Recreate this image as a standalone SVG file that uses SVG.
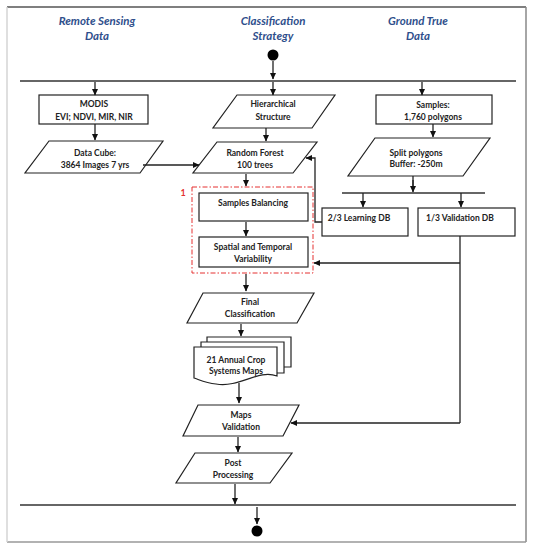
<svg xmlns="http://www.w3.org/2000/svg" width="534" height="550" viewBox="0 0 534 550">
<defs>
<marker id="ah" markerWidth="7" markerHeight="7" refX="6" refY="3.5" orient="auto" markerUnits="userSpaceOnUse">
<path d="M0,0.5 L6.5,3.5 L0,6.5 Z" fill="#111"/>
</marker>
</defs>
<style>
.hd{font-family:"Lato","Open Sans",sans-serif;font-weight:bold;font-style:italic;font-size:11.5px;fill:#2f4f8c;text-anchor:middle}
.t{font-family:"Lato","Open Sans",sans-serif;font-weight:bold;font-size:8.5px;fill:#222;text-anchor:middle}
.box{fill:#fff;stroke:#222;stroke-width:1.2}
.c{fill:none;stroke:#222;stroke-width:1.3}
.a{fill:none;stroke:#222;stroke-width:1.3;marker-end:url(#ah)}
.ln{stroke:#333;stroke-width:1.6}
</style>
<rect width="534" height="550" fill="#fff"/>
<g id="frame">
<line x1="7" y1="7" x2="526" y2="7" stroke="#555" stroke-width="1.5"/>
<line x1="526" y1="7" x2="526" y2="542" stroke="#888" stroke-width="1.5"/>
<line x1="7" y1="542" x2="526" y2="542" stroke="#999" stroke-width="1.5"/>
<line x1="7" y1="7" x2="7" y2="542" stroke="#d4d4d4" stroke-width="1.5"/>
</g>
<g id="headers">
<text class="hd" x="97" y="25">Remote Sensing</text>
<text class="hd" x="97" y="40">Data</text>
<text class="hd" x="273" y="25">Classification</text>
<text class="hd" x="273" y="40">Strategy</text>
<text class="hd" x="418" y="25">Ground True</text>
<text class="hd" x="418" y="40">Data</text>
</g>
<g id="start"><circle cx="273" cy="55" r="5.5" fill="#000"/></g>
<g id="end"><circle cx="257" cy="531" r="5.5" fill="#000"/></g>
<g id="bars">
<line class="ln" x1="20" y1="81" x2="516" y2="81"/>
<line class="ln" x1="20" y1="505" x2="516" y2="505"/>
<line class="ln" x1="342" y1="193" x2="485" y2="193" stroke-width="1.3"/>
</g>
<g id="modis">
<rect class="box" x="39" y="95" width="109" height="29"/>
<text class="t" x="94" y="107">MODIS</text>
<text class="t" x="94" y="119.5">EVI; NDVI, MIR, NIR</text>
</g>
<g id="datacube">
<polygon class="box" points="49,141 163,141 140,173 25,173"/>
<text class="t" x="95" y="156">Data Cube:</text>
<text class="t" x="95" y="168">3864 Images 7 yrs</text>
</g>
<g id="hierarchical">
<polygon class="box" points="237,95 335,95 312,128 213,128"/>
<text class="t" x="273" y="107">Hierarchical</text>
<text class="t" x="273" y="119.5">Structure</text>
</g>
<g id="randomforest">
<polygon class="box" points="217,142 317,142 293,173 193,173"/>
<text class="t" x="255" y="156">Random Forest</text>
<text class="t" x="255" y="168">100 trees</text>
</g>
<g id="group1">
<rect x="192" y="187" width="121" height="86" fill="none" stroke="#e53030" stroke-width="1" stroke-dasharray="5,2,1.5,2"/>
<text x="183" y="196" font-family="Lato, sans-serif" font-weight="bold" font-size="9" fill="#e53030" text-anchor="middle">1</text>
</g>
<g id="balancing">
<rect class="box" x="199" y="193" width="109" height="28"/>
<text class="t" x="253" y="206">Samples Balancing</text>
</g>
<g id="variability">
<rect class="box" x="199" y="237" width="109" height="30"/>
<text class="t" x="253" y="250">Spatial and Temporal</text>
<text class="t" x="253" y="261.5">Variability</text>
</g>
<g id="samples">
<rect class="box" x="376" y="95" width="116" height="29"/>
<text class="t" x="433" y="108">Samples:</text>
<text class="t" x="433" y="120">1,760 polygons</text>
</g>
<g id="split">
<polygon class="box" points="375,138 490,138 463,176 348,176"/>
<text class="t" x="416" y="156">Split polygons</text>
<text class="t" x="416" y="167">Buffer: -250m</text>
</g>
<g id="learning">
<rect class="box" x="322" y="208" width="86" height="28"/>
<text class="t" x="359" y="221">2/3 Learning DB</text>
</g>
<g id="validation">
<rect class="box" x="418" y="208" width="97" height="28"/>
<text class="t" x="460" y="221">1/3 Validation DB</text>
</g>
<g id="final">
<polygon class="box" points="203,293 314,293 297,323 187,323"/>
<text class="t" x="250" y="305">Final</text>
<text class="t" x="250" y="316.5">Classification</text>
</g>
<g id="maps">
<path class="box" d="M207,337 H291 V367 H207 Z"/>
<path class="box" d="M201,342 H284 V373 H201 Z"/>
<path class="box" d="M194,347 H277 V376 C258,369 240,388 216,384 C206,383 200,380 194,378 Z"/>
<text class="t" x="236" y="363">21 Annual Crop</text>
<text class="t" x="236" y="374">Systems Maps</text>
</g>
<g id="mapsvalidation">
<polygon class="box" points="198,405 299,405 283,436 183,436"/>
<text class="t" x="241" y="418">Maps</text>
<text class="t" x="241" y="429.5">Validation</text>
</g>
<g id="post">
<polygon class="box" points="195,453 292,453 270,483 176,483"/>
<text class="t" x="233" y="466">Post</text>
<text class="t" x="233" y="477.5">Processing</text>
</g>
<g id="connectors">
<line class="a" x1="273" y1="61" x2="273" y2="79"/>
<line class="a" x1="95" y1="82" x2="95" y2="95"/>
<line class="a" x1="273" y1="82" x2="273" y2="95"/>
<line class="a" x1="422" y1="82" x2="422" y2="95"/>
<line class="a" x1="95" y1="124" x2="95" y2="140"/>
<line class="a" x1="266" y1="128" x2="266" y2="141"/>
<line class="a" x1="143" y1="165" x2="199" y2="165"/>
<line class="a" x1="433" y1="124" x2="433" y2="137"/>
<line class="c" x1="413" y1="176" x2="413" y2="186"/>
<line class="a" x1="413" y1="180" x2="413" y2="192"/>
<line class="a" x1="363" y1="193" x2="363" y2="207"/>
<line class="a" x1="461" y1="193" x2="461" y2="207"/>
<polyline class="a" points="322,222 315,222 315,158 306,158"/>
<line class="a" x1="246" y1="174" x2="246" y2="186"/>
<line class="a" x1="246" y1="222" x2="246" y2="236"/>
<polyline class="c" points="460,236 460,423"/>
<line class="a" x1="460" y1="263" x2="314" y2="263"/>
<line class="a" x1="460" y1="423" x2="291" y2="423"/>
<line class="a" x1="246" y1="274" x2="246" y2="291"/>
<line class="a" x1="241" y1="324" x2="241" y2="336"/>
<line class="a" x1="239" y1="383" x2="239" y2="403"/>
<line class="a" x1="238" y1="437" x2="238" y2="452"/>
<line class="a" x1="235" y1="484" x2="235" y2="504"/>
<line class="a" x1="257" y1="507" x2="257" y2="524"/>
</g>
</svg>
